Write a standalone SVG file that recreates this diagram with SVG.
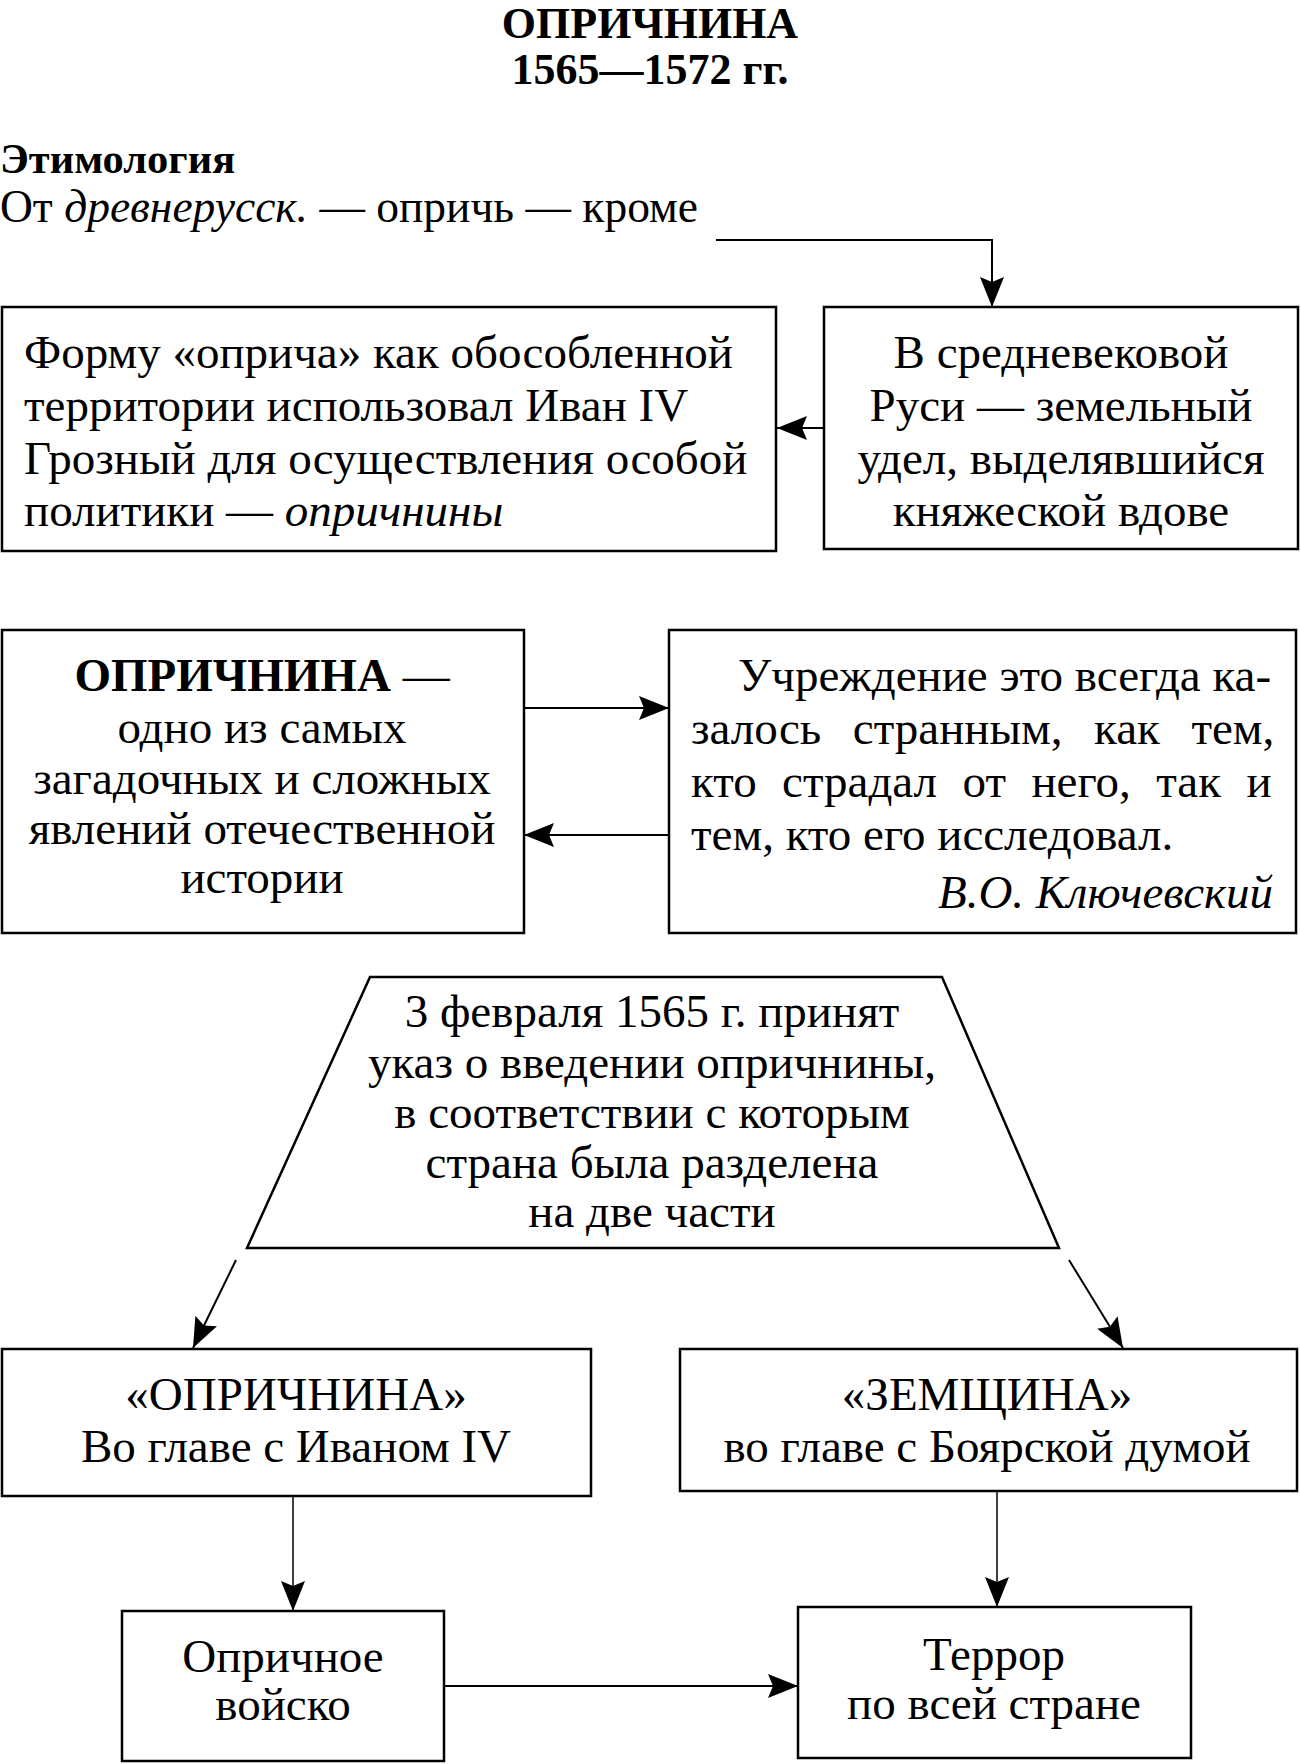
<svg xmlns="http://www.w3.org/2000/svg" width="1300" height="1764" viewBox="0 0 1300 1764">
<style>
text{font-family:"Liberation Serif","Times New Roman",serif;font-size:47px;fill:#000}
.b{font-weight:bold}
.i{font-style:italic}
.c{text-anchor:middle}
.e{text-anchor:end}
.t{font-size:44px}
.h{font-size:42.5px}
.ety{font-size:45.5px}
.box{fill:#fff;stroke:#000;stroke-width:2.5}
.ln{fill:none;stroke:#000;stroke-width:2}
.thin{fill:none;stroke:#000;stroke-width:1.5}
</style>
<defs>
<marker id="ah" viewBox="0 0 30 24" refX="30" refY="12" markerWidth="30" markerHeight="24" markerUnits="userSpaceOnUse" orient="auto">
<path d="M0,0 L30,12 L0,24 L5,12 z" fill="#000"/>
</marker>
</defs>
<rect width="1300" height="1764" fill="#fff"/>

<g id="title">
<text class="b c t" x="650" y="38">ОПРИЧНИНА</text>
<text class="b c t" x="650" y="84">1565—1572 гг.</text>
</g>

<g id="etymology">
<text class="b h" x="0" y="173">Этимология</text>
<text class="ety" x="0" y="222">От <tspan class="i">древнерусск.</tspan> — опричь — кроме</text>
</g>

<g id="node-a">
<rect class="box" x="2" y="307" width="774" height="244"/>
<text x="24" y="368">Форму «оприча» как обособленной</text>
<text x="24" y="421">территории использовал Иван IV</text>
<text x="24" y="474">Грозный для осуществления особой</text>
<text x="24" y="526">политики — <tspan class="i">опричнины</tspan></text>
</g>

<g id="node-b">
<rect class="box" x="824" y="307" width="474" height="242"/>
<text class="c" x="1061" y="368">В средневековой</text>
<text class="c" x="1061" y="421">Руси — земельный</text>
<text class="c" x="1061" y="474">удел, выделявшийся</text>
<text class="c" x="1061" y="526">княжеской вдове</text>
</g>

<g id="node-c">
<rect class="box" x="2" y="630" width="522" height="303"/>
<text class="c" x="262" y="691"><tspan class="b">ОПРИЧНИНА</tspan> —</text>
<text class="c" x="262" y="743">одно из самых</text>
<text class="c" x="262" y="794">загадочных и сложных</text>
<text class="c" x="262" y="844">явлений отечественной</text>
<text class="c" x="262" y="893">истории</text>
</g>

<g id="node-d">
<rect class="box" x="669" y="630" width="627" height="303"/>
<text x="738" y="691">Учреждение это всегда ка-</text>
<text x="691" y="744" word-spacing="19.8">залось странным, как тем,</text>
<text x="691" y="797" word-spacing="13.7">кто страдал от него, так и</text>
<text x="691" y="850">тем, кто его исследовал.</text>
<text class="i e" x="1273" y="908">В.О. Ключевский</text>
</g>

<g id="node-decree">
<polygon class="box" points="370,977 942,977 1059,1248 247,1248"/>
<text class="c" x="652" y="1027">3 февраля 1565 г. принят</text>
<text class="c" x="652" y="1078">указ о введении опричнины,</text>
<text class="c" x="652" y="1128">в соответствии с которым</text>
<text class="c" x="652" y="1178">страна была разделена</text>
<text class="c" x="652" y="1227">на две части</text>
</g>

<g id="node-e">
<rect class="box" x="2" y="1349" width="589" height="147"/>
<text class="c" x="296" y="1410">«ОПРИЧНИНА»</text>
<text class="c" x="296" y="1462">Во главе с Иваном IV</text>
</g>

<g id="node-f">
<rect class="box" x="680" y="1349" width="617" height="142"/>
<text class="c" x="987" y="1410">«ЗЕМЩИНА»</text>
<text class="c" x="987" y="1462">во главе с Боярской думой</text>
</g>

<g id="node-g">
<rect class="box" x="122" y="1611" width="322" height="150"/>
<text class="c" x="283" y="1672">Опричное</text>
<text class="c" x="283" y="1720">войско</text>
</g>

<g id="node-h">
<rect class="box" x="798" y="1607" width="393" height="151"/>
<text class="c" x="994" y="1670">Террор</text>
<text class="c" x="994" y="1719">по всей стране</text>
</g>

<g id="connectors">
<polyline class="ln" points="716,240 992,240 992,307" marker-end="url(#ah)"/>
<line class="ln" x1="824" y1="428" x2="777" y2="428" marker-end="url(#ah)"/>
<line class="ln" x1="524" y1="708" x2="669" y2="708" marker-end="url(#ah)"/>
<line class="ln" x1="669" y1="835" x2="524" y2="835" marker-end="url(#ah)"/>
<line class="ln" x1="236" y1="1260" x2="193" y2="1348" marker-end="url(#ah)"/>
<line class="ln" x1="1069" y1="1260" x2="1123" y2="1348" marker-end="url(#ah)"/>
<line class="thin" x1="293" y1="1496" x2="293" y2="1611" marker-end="url(#ah)"/>
<line class="thin" x1="997" y1="1491" x2="997" y2="1607" marker-end="url(#ah)"/>
<line class="ln" x1="444" y1="1686" x2="798" y2="1686" marker-end="url(#ah)"/>
</g>
</svg>
